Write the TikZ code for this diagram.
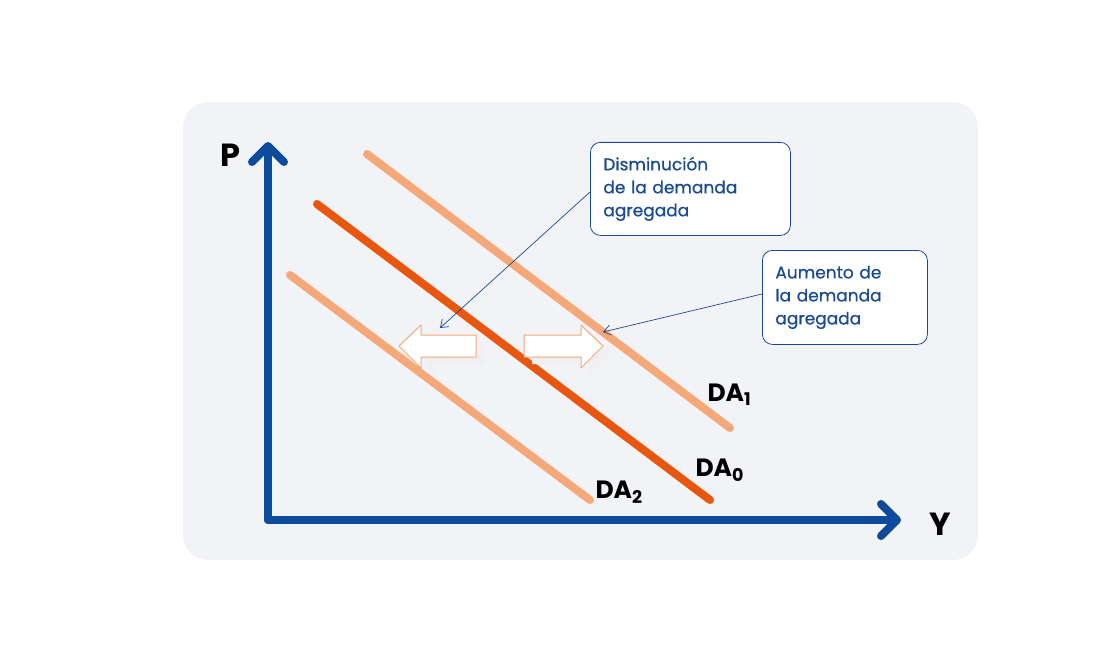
\documentclass[tikz,border=0pt]{standalone}
\usepackage{fontspec}
\setmainfont{Poppins}
\newfontfamily\notefont[FakeBold=0.6]{Poppins}
\usetikzlibrary{arrows.meta}
\definecolor{axisblue}{HTML}{0D4C9C}
\definecolor{textblue}{HTML}{1B4A94}
\definecolor{darange}{HTML}{E8560F}
\definecolor{lightorange}{HTML}{F5A878}
\definecolor{panel}{HTML}{F2F3F7}
\tikzset{
  curve/.style={line width=8pt,line cap=round},
  note/.style={draw=textblue,fill=white,rounded corners=10pt,line width=0.8pt,
    text=textblue,align=left,font=\notefont\fontsize{17}{23}\selectfont,
    inner xsep=13pt,inner ysep=10pt},
  lbl/.style={font=\fontsize{25}{25}\selectfont\bfseries,anchor=west},
  shift arrow/.style={fill=white,draw=lightorange,line width=1pt,line join=round}
}
\begin{document}
\begin{tikzpicture}[x=1pt,y=-1pt]
\useasboundingbox (0,0) rectangle (1120,650);
\fill[panel,rounded corners=25pt] (183,102) rectangle (978,560);
%axes
\draw[axisblue,line width=8pt,line cap=round,line join=round] (268,520) -- (268,150);
\draw[axisblue,line width=8pt,line cap=round,line join=round] (268,520) -- (893,520);
\draw[axisblue,line width=8pt,line cap=round,line join=round] (252,162) -- (268,146) -- (284,162);
\draw[axisblue,line width=8pt,line cap=round,line join=round] (881,504) -- (897,520) -- (881,536);
\node[font=\fontsize{32}{32}\selectfont\bfseries] (p) at (230,155) {P};
\node[font=\fontsize{32}{32}\selectfont\bfseries] (y) at (940,524) {Y};
%curves
\draw[curve,lightorange] (367,154) -- (730,428);
\draw[curve,darange] (317,204) -- (710,500);
\draw[curve,lightorange] (290,275) -- (590,500);
\node[lbl] (da1) at (704,395) {DA\textsubscript{1}};
\node[lbl] (da0) at (692,470) {DA\textsubscript{0}};
\node[lbl] (da2) at (592,492) {DA\textsubscript{2}};
%shift arrows
\fill[gray!12] (411,337) -- (433,331) -- (433,342) -- (484,342) -- (484,364) -- (433,364) -- (433,375) -- cycle;
\draw[shift arrow] (399,346) -- (421,325) -- (421,335) -- (476,335) -- (476,357) -- (421,357) -- (421,368) -- cycle;
\fill[gray!12] (532,342) -- (588,342) -- (588,331) -- (611,353) -- (588,375) -- (588,364) -- (532,364) -- cycle;
\draw[shift arrow] (524,335) -- (581,335) -- (581,325) -- (603,346) -- (581,368) -- (581,357) -- (524,357) -- cycle;
\coordinate (dtip) at (440,328);
\coordinate (atip) at (603,332);
%notes
\node[note,text width=174pt,minimum height=93pt,anchor=north west] (dism) at (590,142)
  {Disminución\\de la demanda\\agregada};
\node[note,text width=139pt,minimum height=94pt,anchor=north west] (aum) at (762,250)
  {Aumento de\\la demanda\\agregada};
\draw[textblue,line width=0.7pt,-{Straight Barb[length=7pt,width=10pt]}] (dism.west|-0,192) -- (dtip);
\draw[textblue,line width=0.7pt,-{Straight Barb[length=7pt,width=10pt]}] (aum.west|-0,294) -- (atip);
\end{tikzpicture}
\end{document}
